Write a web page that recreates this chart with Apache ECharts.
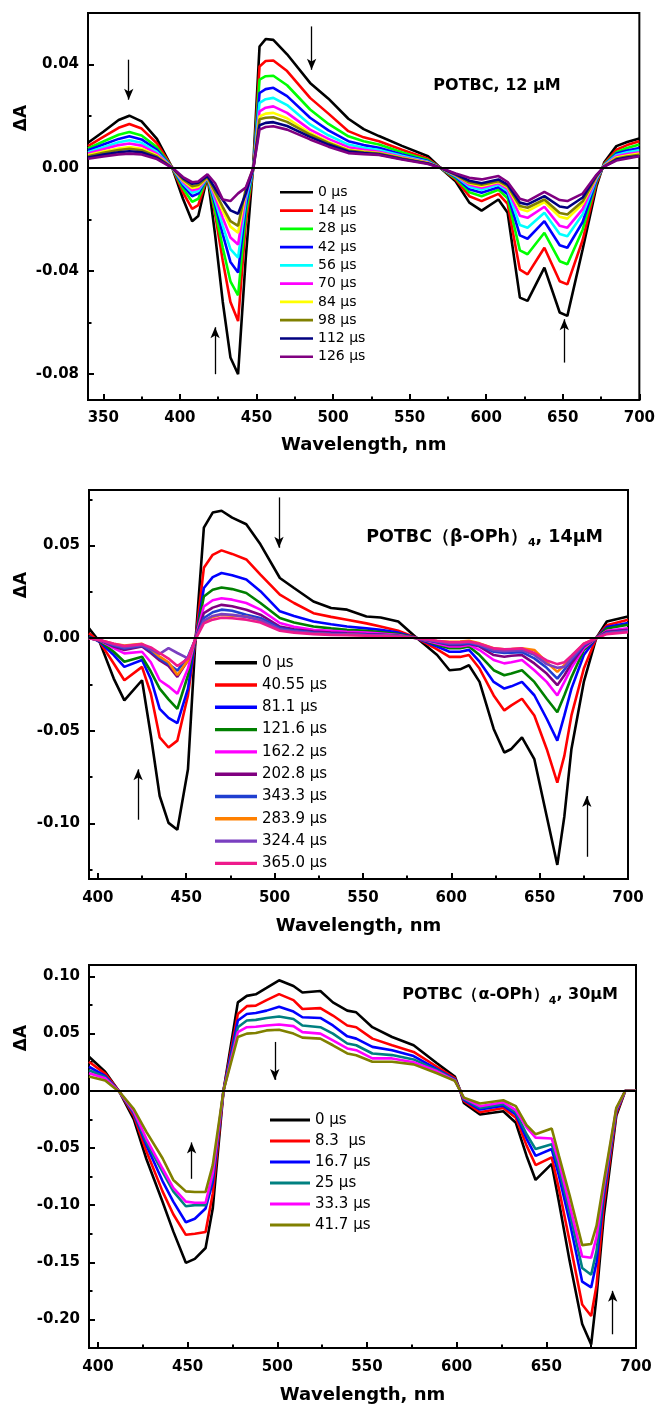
<!DOCTYPE html>
<html><head><meta charset="utf-8">
<script src="https://cdn.jsdelivr.net/npm/echarts@6/dist/echarts.min.js"></script>
<style>html,body{margin:0;padding:0;background:#fff}#c{width:658px;height:1408px}</style>
</head><body><div id="c"></div>
<script>
// ---------- Panel 1: POTBC, 12 uM ----------
const X1 = [340,350,360,367,375,385,395,402,408,412,418,423,428,433,438,443,448,452,456,461,470,485,497,510,520,530,545,562,570,580,589,597,608,614,622,627,638,648,653,663,672,677,685,692,700];
const L1 = ['0 μs','14 μs','28 μs','42 μs','56 μs','70 μs','84 μs','98 μs','112 μs','126 μs'];
const P1_0 = [0.0097,0.0140,0.0185,0.0202,0.0180,0.0112,0.0,-0.012,-0.0207,-0.0187,-0.0032,-0.026,-0.052,-0.0735,-0.080,-0.035,0.002,0.047,0.0499,0.0496,0.0440,0.0329,0.0268,0.0190,0.0150,0.0123,0.0085,0.0045,0.0,-0.0052,-0.0135,-0.0166,-0.0123,-0.0174,-0.0503,-0.0516,-0.0387,-0.0561,-0.0574,-0.0316,-0.0072,0.002,0.0084,0.0100,0.0114];
const P1_1 = [0.0084,0.0120,0.0155,0.0170,0.0152,0.0095,0.0,-0.0095,-0.0159,-0.0145,-0.0035,-0.018,-0.036,-0.052,-0.0594,-0.0216,0.0,0.0393,0.0414,0.0416,0.0375,0.0271,0.0210,0.0142,0.0118,0.0103,0.0070,0.0035,0.0,-0.0045,-0.0110,-0.0129,-0.0101,-0.0140,-0.0395,-0.0413,-0.0310,-0.0440,-0.0452,-0.0280,-0.0060,0.0015,0.0070,0.0088,0.0103];
const P1_2 = [0.0075,0.0102,0.0128,0.0139,0.0125,0.0080,0.0,-0.0080,-0.0132,-0.0120,-0.0036,-0.0165,-0.031,-0.044,-0.0494,-0.018,0.0,0.0342,0.0355,0.0357,0.0320,0.0226,0.0170,0.0122,0.0103,0.0090,0.0060,0.0030,0.0,-0.0040,-0.0095,-0.0110,-0.0085,-0.0118,-0.0320,-0.0335,-0.0252,-0.0362,-0.0374,-0.0240,-0.0052,0.0012,0.0060,0.0077,0.0090];
const P1_3 = [0.0068,0.0090,0.0112,0.0122,0.0110,0.0070,0.0,-0.0068,-0.0110,-0.0100,-0.0036,-0.0142,-0.0258,-0.0365,-0.0406,-0.0148,0.0,0.0290,0.0305,0.0310,0.0278,0.0194,0.0145,0.0103,0.0088,0.0078,0.0052,0.0026,0.0,-0.0035,-0.0083,-0.0097,-0.0075,-0.0102,-0.0262,-0.0275,-0.0207,-0.0300,-0.0310,-0.0210,-0.0047,0.0010,0.0055,0.0067,0.0077];
const P1_4 = [0.0060,0.0080,0.0099,0.0107,0.0097,0.0062,0.0,-0.0060,-0.0097,-0.0090,-0.0037,-0.0127,-0.0225,-0.0315,-0.0348,-0.0127,0.0,0.0252,0.0266,0.0271,0.0243,0.0168,0.0126,0.0090,0.0078,0.0069,0.0047,0.0023,0.0,-0.0032,-0.0073,-0.0085,-0.0066,-0.0090,-0.0222,-0.0232,-0.0174,-0.0257,-0.0265,-0.0180,-0.0042,0.0010,0.0050,0.0060,0.0068];
const P1_5 = [0.0055,0.0072,0.0088,0.0094,0.0086,0.0055,0.0,-0.0054,-0.0087,-0.0081,-0.0037,-0.0113,-0.0194,-0.0270,-0.0297,-0.0108,0.0,0.0219,0.0233,0.0238,0.0213,0.0148,0.0112,0.0080,0.0070,0.0062,0.0042,0.0021,0.0,-0.0030,-0.0066,-0.0077,-0.0060,-0.0082,-0.0186,-0.0194,-0.0151,-0.0225,-0.0232,-0.0160,-0.0038,0.0008,0.0045,0.0053,0.0060];
const P1_6 = [0.0050,0.0063,0.0075,0.0080,0.0074,0.0048,0.0,-0.0049,-0.0078,-0.0073,-0.0037,-0.0100,-0.0166,-0.0228,-0.0252,-0.0092,0.0,0.0199,0.0210,0.0213,0.0192,0.0135,0.0100,0.0070,0.0063,0.0057,0.0039,0.0019,0.0,-0.0028,-0.0060,-0.0070,-0.0055,-0.0075,-0.0160,-0.0168,-0.0133,-0.0190,-0.0197,-0.0140,-0.0035,0.0007,0.0040,0.0048,0.0055];
const P1_7 = [0.0045,0.0058,0.0069,0.0074,0.0068,0.0044,0.0,-0.0045,-0.0071,-0.0067,-0.0036,-0.0093,-0.0152,-0.0207,-0.0225,-0.0082,0.0,0.0188,0.0194,0.0196,0.0178,0.0129,0.0096,0.0067,0.0060,0.0055,0.0037,0.0018,0.0,-0.0027,-0.0057,-0.0066,-0.0052,-0.0071,-0.0148,-0.0155,-0.0123,-0.0175,-0.0181,-0.0130,-0.0033,0.0006,0.0036,0.0044,0.0050];
const P1_8 = [0.0040,0.0051,0.0060,0.0064,0.0060,0.0039,0.0,-0.0040,-0.0062,-0.0058,-0.0032,-0.0080,-0.0125,-0.0165,-0.0178,-0.0100,0.0,0.0165,0.0174,0.0177,0.0162,0.0120,0.0090,0.0063,0.0057,0.0052,0.0034,0.0017,0.0,-0.0025,-0.0050,-0.0060,-0.0045,-0.0065,-0.0135,-0.0142,-0.0110,-0.0150,-0.0155,-0.0115,-0.0030,0.0005,0.0032,0.0040,0.0046];
const P1_9 = [0.0035,0.0044,0.0052,0.0055,0.0052,0.0034,0.0,-0.0036,-0.0056,-0.0053,-0.0025,-0.0060,-0.0123,-0.0129,-0.0099,-0.0077,0.0,0.0148,0.0158,0.0161,0.0148,0.0110,0.0082,0.0057,0.0053,0.0050,0.0032,0.0015,0.0,-0.0022,-0.0039,-0.0045,-0.0032,-0.0055,-0.0120,-0.0129,-0.0093,-0.0125,-0.0129,-0.0100,-0.0027,0.0005,0.0028,0.0036,0.0045];
const ARR1 = [[366.6,0.0419,0.0264],[486,0.0548,0.038],[423,-0.080,-0.0618],[651,-0.0755,-0.0587]];
const YT1_MAJOR = [-0.08,-0.04,0,0.04];
const YT1_MINOR = [-0.06,-0.02,0.02];
const XT1_MAJOR = [350,400,450,500,550,600,650,700];
const XT1_MINOR = [375,425,475,525,575,625,675];

// ---------- Panel 2: POTBC(beta-OPh)4, 14 uM ----------
const X2 = [395,401,409,415,425,430,435,440,445,451,455,460,465,470,476,484,492,503,511,522,532,541,552,560,570,580,592,599,605,610,616,624,630,634,640,647,654,660,664,668,675,682,688,700];
const L2 = ['0 μs','40.55 μs','81.1 μs','121.6 μs','162.2 μs','202.8 μs','343.3 μs','283.9 μs','324.4 μs','365.0 μs'];
const P2_0 = [0.0053,-0.002,-0.0218,-0.0336,-0.0227,-0.0525,-0.0852,-0.0997,-0.1034,-0.0708,-0.005,0.0597,0.0678,0.0688,0.0651,0.0615,0.0507,0.0325,0.0271,0.0198,0.0163,0.0154,0.0117,0.0112,0.0090,0.0005,-0.0091,-0.0173,-0.0168,-0.0146,-0.0236,-0.049,-0.0617,-0.0598,-0.0535,-0.0653,-0.0961,-0.1224,-0.0961,-0.0598,-0.0236,0.0,0.009,0.0117];
const P2_1 = [0.0027,-0.002,-0.0137,-0.0227,-0.0155,-0.030,-0.0535,-0.059,-0.0553,-0.0309,-0.003,0.038,0.045,0.0474,0.0455,0.0425,0.0343,0.0235,0.019,0.0135,0.0115,0.010,0.008,0.0063,0.004,0.0003,-0.006,-0.0101,-0.0101,-0.0091,-0.0164,-0.0309,-0.039,-0.0363,-0.0327,-0.0417,-0.0598,-0.078,-0.0634,-0.0417,-0.0164,0.0,0.007,0.010];
const P2_2 = [0.001,-0.002,-0.0091,-0.0155,-0.0118,-0.022,-0.0382,-0.043,-0.0458,-0.0272,-0.002,0.0271,0.033,0.0352,0.034,0.0317,0.0254,0.0145,0.012,0.009,0.0075,0.0063,0.0053,0.0045,0.003,0.0002,-0.0045,-0.0073,-0.0073,-0.0063,-0.0127,-0.0236,-0.0272,-0.026,-0.0236,-0.0308,-0.0435,-0.0553,-0.0417,-0.0272,-0.0091,0.0,0.006,0.0082];
const P2_3 = [0.0005,-0.0015,-0.0073,-0.0127,-0.010,-0.018,-0.0272,-0.033,-0.0382,-0.020,-0.0015,0.0225,0.0262,0.0274,0.0265,0.0244,0.019,0.0109,0.0085,0.0063,0.0053,0.0045,0.004,0.0033,0.0022,0.0002,-0.0035,-0.0054,-0.0054,-0.0045,-0.0091,-0.0173,-0.020,-0.019,-0.0173,-0.0236,-0.0327,-0.040,-0.0308,-0.021,-0.0064,0.0,0.0052,0.0073];
const P2_4 = [0.0,-0.0012,-0.0054,-0.0082,-0.0073,-0.013,-0.0227,-0.026,-0.030,-0.0164,-0.001,0.0171,0.0205,0.0216,0.0208,0.019,0.0154,0.0082,0.0062,0.0045,0.004,0.0035,0.003,0.0025,0.0017,0.0001,-0.0028,-0.0045,-0.0045,-0.0036,-0.0064,-0.0118,-0.0136,-0.013,-0.0118,-0.0173,-0.0236,-0.0309,-0.0236,-0.016,-0.0054,0.0,0.004,0.0054];
const P2_5 = [0.0,-0.001,-0.0045,-0.0064,-0.0045,-0.008,-0.012,-0.015,-0.0209,-0.012,-0.001,0.0135,0.0165,0.018,0.0172,0.0154,0.0127,0.0063,0.0048,0.0036,0.003,0.0026,0.0022,0.002,0.0013,0.0001,-0.0022,-0.0036,-0.0036,-0.003,-0.0045,-0.0091,-0.010,-0.0095,-0.0091,-0.0136,-0.0191,-0.0254,-0.020,-0.0136,-0.0045,0.0,0.0035,0.0045];
const P2_6 = [0.0,-0.001,-0.004,-0.0055,-0.004,-0.007,-0.011,-0.014,-0.0175,-0.010,-0.001,0.0109,0.014,0.0154,0.0148,0.0127,0.0109,0.0055,0.0042,0.003,0.0025,0.0022,0.0019,0.0017,0.0011,0.0001,-0.002,-0.0032,-0.0032,-0.0027,-0.004,-0.0073,-0.008,-0.0078,-0.0075,-0.0109,-0.016,-0.0218,-0.017,-0.0118,-0.004,0.0,0.003,0.004];
const P2_7 = [0.0,-0.001,-0.003,-0.004,-0.003,-0.006,-0.010,-0.013,-0.0199,-0.012,-0.001,0.009,0.0115,0.0126,0.0122,0.0117,0.0095,0.0045,0.0035,0.0025,0.0021,0.0019,0.0016,0.0015,0.001,0.0001,-0.0015,-0.002,-0.0018,-0.0014,-0.0028,-0.0054,-0.006,-0.0058,-0.0054,-0.0064,-0.013,-0.0182,-0.0145,-0.010,-0.003,0.0,0.0025,0.0036];
const P2_8 = [0.0,-0.001,-0.0035,-0.005,-0.0038,-0.006,-0.0085,-0.0054,-0.008,-0.0109,-0.001,0.0095,0.012,0.013,0.0126,0.0115,0.0098,0.0048,0.0037,0.0027,0.0022,0.002,0.0017,0.0015,0.001,0.0001,-0.0018,-0.0028,-0.0027,-0.0022,-0.0035,-0.0065,-0.007,-0.0068,-0.0065,-0.009,-0.014,-0.016,-0.0155,-0.011,-0.0035,0.0,0.0027,0.0038];
const P2_9 = [0.0,-0.001,-0.003,-0.0042,-0.0032,-0.005,-0.008,-0.011,-0.015,-0.011,-0.001,0.008,0.010,0.011,0.0108,0.010,0.0085,0.004,0.003,0.0022,0.0018,0.0016,0.0014,0.0012,0.0008,0.0001,-0.0014,-0.0022,-0.0021,-0.0018,-0.003,-0.0055,-0.006,-0.0058,-0.0055,-0.008,-0.012,-0.014,-0.013,-0.0095,-0.003,0.0,0.0022,0.0032];
const ARR2 = [[502.5,0.076,0.0488],[422.8,-0.098,-0.0708],[676.7,-0.118,-0.0852]];
const YT2_MAJOR = [-0.10,-0.05,0,0.05];
const YT2_MINOR = [-0.125,-0.075,-0.025,0.025,0.075];
const XT2_MAJOR = [400,450,500,550,600,650,700];
const XT2_MINOR = [425,475,525,575,625,675];

// ---------- Panel 3: POTBC(alpha-OPh)4, 30 uM ----------
const X3 = [395,404,412,420,427,436,442,449,454,460,464,470,478,483,488,494,501,509,514,524,531,539,544,553,564,576,589,599,602,604,613,626,633,639,644,653,657,663,670,675,678,682,689,694,700];
const L3 = ['0 μs','8.3  μs','16.7 μs','25 μs','33.3 μs','41.7 μs'];
const P3_0 = [0.0297,0.0167,-0.001,-0.025,-0.0597,-0.0971,-0.123,-0.1505,-0.147,-0.1375,-0.103,0.0,0.0773,0.083,0.0844,0.090,0.0966,0.0917,0.0859,0.0873,0.0773,0.0701,0.0686,0.0556,0.047,0.0398,0.024,0.0124,0.0,-0.0106,-0.0208,-0.0179,-0.028,-0.057,-0.078,-0.064,-0.0971,-0.149,-0.204,-0.222,-0.18,-0.11,-0.022,0.0,0.0];
const P3_1 = [0.0254,0.015,-0.001,-0.022,-0.053,-0.088,-0.108,-0.126,-0.125,-0.1236,-0.09,0.0,0.0672,0.074,0.0745,0.0793,0.0845,0.0793,0.0715,0.0723,0.0658,0.0571,0.0556,0.0456,0.0398,0.034,0.021,0.011,0.0,-0.009,-0.0188,-0.015,-0.0236,-0.048,-0.065,-0.0583,-0.0856,-0.1317,-0.187,-0.197,-0.17,-0.10,-0.02,0.0,0.0];
const P3_2 = [0.021,0.013,-0.001,-0.020,-0.0476,-0.079,-0.097,-0.115,-0.112,-0.103,-0.080,0.0,0.0614,0.0672,0.068,0.0701,0.0735,0.0693,0.0643,0.0637,0.0571,0.0476,0.0456,0.0384,0.0355,0.0303,0.019,0.010,0.0,-0.008,-0.0164,-0.013,-0.0208,-0.042,-0.057,-0.051,-0.074,-0.1145,-0.167,-0.172,-0.150,-0.092,-0.018,0.0,0.0];
const P3_3 = [0.018,0.012,-0.001,-0.019,-0.045,-0.071,-0.088,-0.101,-0.100,-0.100,-0.075,0.0,0.0556,0.0614,0.062,0.0637,0.0649,0.0628,0.0571,0.0556,0.050,0.0413,0.0398,0.0326,0.0312,0.0274,0.018,0.0095,0.0,-0.007,-0.015,-0.0115,-0.019,-0.038,-0.051,-0.0467,-0.068,-0.106,-0.155,-0.161,-0.140,-0.088,-0.017,0.0,0.0];
const P3_4 = [0.0153,0.011,-0.001,-0.018,-0.042,-0.068,-0.085,-0.097,-0.098,-0.098,-0.072,0.0,0.0513,0.0556,0.056,0.0571,0.058,0.0565,0.0513,0.050,0.044,0.037,0.0355,0.0283,0.0283,0.025,0.017,0.009,0.0,-0.0065,-0.0135,-0.010,-0.017,-0.032,-0.041,-0.0418,-0.062,-0.100,-0.145,-0.146,-0.128,-0.084,-0.016,0.0,0.0];
const P3_5 = [0.0124,0.009,-0.001,-0.016,-0.036,-0.059,-0.078,-0.088,-0.0885,-0.0885,-0.065,0.0,0.047,0.050,0.0505,0.0528,0.0533,0.050,0.0465,0.0456,0.0398,0.0326,0.031,0.0254,0.0254,0.0231,0.0153,0.0086,0.0,-0.006,-0.0112,-0.0083,-0.0135,-0.030,-0.038,-0.033,-0.0568,-0.0914,-0.135,-0.134,-0.118,-0.080,-0.015,0.0,0.0];
const ARR3 = [[498.6,0.0427,0.0095],[452.2,-0.077,-0.0452],[687,-0.213,-0.175]];
const YT3_MAJOR = [-0.20,-0.15,-0.10,-0.05,0,0.05,0.10];
const YT3_MINOR = [-0.175,-0.125,-0.075,-0.025,0.025,0.075];
const XT3_MAJOR = [400,450,500,550,600,650,700];
const XT3_MINOR = [425,475,525,575,625,675];

// ---------- styles ----------
const C1 = ['#000000','#ff0000','#00ff00','#0000ff','#00ffff','#ff00ff','#ffff00','#808000','#000080','#800080'];
const C2 = ['#000000','#ff0000','#0000ff','#008000','#ff00ff','#800080','#1f3fd0','#ff8000','#7a3fc0','#ee1a8c'];
const C3 = ['#000000','#ff0000','#0000ff','#008080','#ff00ff','#808000'];
const FONT = '"DejaVu Sans", "Liberation Sans", Arial, sans-serif';
const LINE_ICON = 'path://M0,0H40V3.2H0Z';

const panels = [
  {X:X1, Y:[P1_0,P1_1,P1_2,P1_3,P1_4,P1_5,P1_6,P1_7,P1_8,P1_9], L:L1, C:C1, arr:ARR1,
   grid:{left:88, top:13, width:552, height:387}, xr:[340,700], yr:[-0.09,0.06],
   xmaj:XT1_MAJOR, xmin:XT1_MINOR, ymaj:YT1_MAJOR, ymin:YT1_MINOR, lblMargin:11, nameGap:36,
   leg:{left:280, top:185.3, w:33, h:14, gap:4.27, fs:14}},
  {X:X2, Y:[P2_0,P2_1,P2_2,P2_3,P2_4,P2_5,P2_6,P2_7,P2_8,P2_9], L:L2, C:C2, arr:ARR2,
   grid:{left:89, top:490, width:539, height:389}, xr:[395,700], yr:[-0.13,0.08],
   xmaj:XT2_MAJOR, xmin:XT2_MINOR, ymaj:YT2_MAJOR, ymin:YT2_MINOR, lblMargin:12, nameGap:38,
   leg:{left:215, top:655.2, w:42, h:15, gap:7.3, fs:15}},
  {X:X3, Y:[P3_0,P3_1,P3_2,P3_3,P3_4,P3_5], L:L3, C:C3, arr:ARR3,
   grid:{left:89, top:965, width:547, height:383}, xr:[395,700], yr:[-0.225,0.11],
   xmaj:XT3_MAJOR, xmin:XT3_MINOR, ymaj:YT3_MAJOR, ymin:YT3_MINOR, lblMargin:12, nameGap:38,
   leg:{left:270, top:1112.5, w:40, h:15, gap:6, fs:15}}
];

const grids = [], xAxes = [], yAxes = [], series = [], legends = [];
const labelMap = {};
const tickLbl = {color:'#000', fontFamily:FONT, fontWeight:'bold', fontSize:15};

panels.forEach((p, gi) => {
  grids.push(Object.assign({show:true, borderColor:'#000', borderWidth:2, backgroundColor:'transparent'}, p.grid));
  const xi = xAxes.length, yi = yAxes.length;
  xAxes.push({type:'value', gridIndex:gi, min:p.xr[0], max:p.xr[1], position:'bottom',
    name:'Wavelength, nm', nameLocation:'middle', nameGap:p.nameGap,
    nameTextStyle:{color:'#000', fontFamily:FONT, fontWeight:'bold', fontSize:18},
    axisLine:{show:true, onZero:false, lineStyle:{color:'#000', width:2}},
    axisTick:{show:true, inside:true, length:6, lineStyle:{color:'#000', width:2}, customValues:p.xmaj},
    axisLabel:Object.assign({customValues:p.xmaj, margin:p.lblMargin, formatter:v=>String(v)}, tickLbl),
    splitLine:{show:false}});
  xAxes.push({type:'value', gridIndex:gi, min:p.xr[0], max:p.xr[1], position:'bottom',
    axisLine:{show:false, onZero:false},
    axisTick:{show:true, inside:true, length:3.5, lineStyle:{color:'#000', width:2}, customValues:p.xmin},
    axisLabel:{show:false}, splitLine:{show:false}});
  yAxes.push({type:'value', gridIndex:gi, min:p.yr[0], max:p.yr[1], position:'left',
    axisLine:{show:true, onZero:false, lineStyle:{color:'#000', width:2}},
    axisTick:{show:true, inside:true, length:6, lineStyle:{color:'#000', width:2}, customValues:p.ymaj},
    axisLabel:Object.assign({customValues:p.ymaj, margin:9, formatter:v=>v.toFixed(2)}, tickLbl),
    splitLine:{show:false}});
  yAxes.push({type:'value', gridIndex:gi, min:p.yr[0], max:p.yr[1], position:'left',
    axisLine:{show:false, onZero:false},
    axisTick:{show:true, inside:true, length:3.5, lineStyle:{color:'#000', width:2}, customValues:p.ymin},
    axisLabel:{show:false}, splitLine:{show:false}});

  const names = [];
  p.Y.forEach((ys, si) => {
    const nm = 'p' + gi + '_' + si;
    names.push(nm);
    labelMap[nm] = p.L[si];
    const s = {type:'line', name:nm, xAxisIndex:xi, yAxisIndex:yi, symbol:'none', showSymbol:false,
      smooth:false, animation:false, silent:true, clip:true,
      lineStyle:{color:p.C[si], width:2.6}, itemStyle:{color:p.C[si]},
      data:p.X.map((x, i) => [x, ys[i]])};
    if (si === 0) {
      const ml = [{yAxis:0, symbol:'none', lineStyle:{color:'#000', width:2, type:'solid'}}];
      p.arr.forEach(a => {
        ml.push([
          {coord:[a[0], a[1]], symbol:'none', lineStyle:{color:'#000', width:1.3, type:'solid'}},
          {coord:[a[0], a[2]], symbol:'arrow', symbolSize:[7, 11], lineStyle:{color:'#000', width:1.3, type:'solid'}}
        ]);
      });
      s.markLine = {silent:true, animation:false, symbol:['none','none'], label:{show:false},
        lineStyle:{color:'#000', type:'solid'}, emphasis:{disabled:true}, data:ml};
    }
    series.push(s);
  });
  legends.push({data:names.map(n => ({name:n, icon:LINE_ICON})), orient:'vertical', left:p.leg.left, top:p.leg.top,
    itemWidth:p.leg.w, itemHeight:p.leg.h, itemGap:p.leg.gap, padding:0, selectedMode:false,
    icon:LINE_ICON, formatter:n => labelMap[n],
    textStyle:{color:'#000', fontFamily:FONT, fontSize:p.leg.fs, lineHeight:p.leg.h}});
});

const subRich = (fs) => ({
  a:{fontFamily:FONT, fontWeight:'bold', fontSize:fs, color:'#000', lineHeight:24, verticalAlign:'middle'},
  s:{fontFamily:FONT, fontWeight:'bold', fontSize:11, color:'#000', lineHeight:24, verticalAlign:'bottom'}
});

const graphic = [
  {type:'text', x:22, y:118, rotation:Math.PI/2, style:{text:'ΔA', font:'bold 17px ' + FONT, fill:'#000', textAlign:'center', textVerticalAlign:'middle', align:'center', verticalAlign:'middle'}},
  {type:'text', x:22, y:585, rotation:Math.PI/2, style:{text:'ΔA', font:'bold 17px ' + FONT, fill:'#000', textAlign:'center', textVerticalAlign:'middle', align:'center', verticalAlign:'middle'}},
  {type:'text', x:22, y:1038, rotation:Math.PI/2, style:{text:'ΔA', font:'bold 17px ' + FONT, fill:'#000', textAlign:'center', textVerticalAlign:'middle', align:'center', verticalAlign:'middle'}},
  {type:'text', x:497, y:86, style:{text:'POTBC, 12 μM', font:'bold 16px ' + FONT, fill:'#000', textAlign:'center', textVerticalAlign:'middle', align:'center', verticalAlign:'middle'}},
  {type:'text', x:603, y:537, style:{text:'{a|POTBC（β-OPh）}{s|4}{a|, 14μM}', rich:subRich(17.5), fill:'#000', textAlign:'right', textVerticalAlign:'middle', align:'right', verticalAlign:'middle'}},
  {type:'text', x:618, y:995, style:{text:'{a|POTBC（α-OPh）}{s|4}{a|, 30μM}', rich:subRich(16), fill:'#000', textAlign:'right', textVerticalAlign:'middle', align:'right', verticalAlign:'middle'}}
];

const chart = echarts.init(document.getElementById('c'), null, {renderer:'canvas'});
chart.setOption({
  animation:false, backgroundColor:'#fff',
  grid:grids, xAxis:xAxes, yAxis:yAxes, series:series, legend:legends, graphic:graphic
});
</script></body></html>
